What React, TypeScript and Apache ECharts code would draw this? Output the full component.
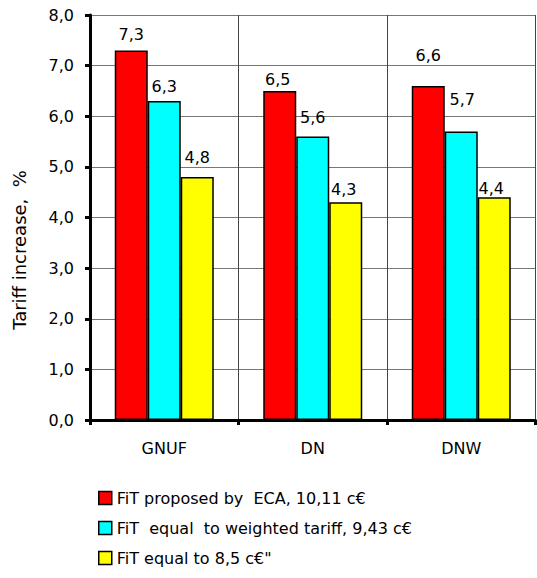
import React, { useEffect, useRef } from "react";
import * as echarts from "echarts";

const categories = ["GNUF", "DN", "DNW"];
const seriesNames = [
  "FiT proposed by  ECA, 10,11 c€",
  "FiT  equal  to weighted tariff, 9,43 c€",
  "FiT equal to 8,5 c€\"",
];
const ecaValues = [7.3, 6.5, 6.6];
const weightedValues = [6.3, 5.6, 5.7];
const fixedValues = [4.8, 4.3, 4.4];
const yAxisTitle = "Tariff increase,  %";

const colors = ["#FF0000", "#00FFFF", "#FFFF00"];
// label offsets per bar (visual tweaks only)
const labelOffsets = [
  [[0, -3], [-2, 2], [0, -17]],
  [[0, -2], [0, -6], [1, -19]],
  [[0, -7], [-2, 0], [-3, 4]],
];

const FONT = "DejaVu Sans";
const fmt = (v: number) => v.toFixed(1).replace(".", ",");

export default function App() {
  const ref = useRef<HTMLDivElement>(null);
  useEffect(() => {
    if (!ref.current) return;
    const chart = echarts.init(ref.current, undefined, { renderer: "svg" });
    const allValues = [ecaValues, weightedValues, fixedValues];
    const series = allValues.map((vals, si) => ({
      name: seriesNames[si],
      type: "bar" as const,
      barWidth: 33,
      barGap: "0%",
      itemStyle: { color: colors[si], borderColor: "#000", borderWidth: 1.5 },
      label: {
        show: true,
        position: "top" as const,
        distance: 5,
        color: "#000",
        fontFamily: FONT,
        fontSize: 16,
        formatter: (p: any) => fmt(p.value),
      },
      data: vals.map((v, i) => ({
        value: v,
        label: { offset: labelOffsets[si][i] },
      })),
    }));
    chart.setOption({
      animation: false,
      backgroundColor: "#fff",
      textStyle: { fontFamily: FONT },
      grid: { left: 90, right: 1.5, top: 15, bottom: 158, containLabel: false },
      legend: {
        orient: "vertical",
        left: 98,
        top: 490,
        padding: 0,
        itemWidth: 13,
        itemHeight: 13,
        itemGap: 14,
        icon: "rect",
        selectedMode: false,
        itemStyle: { borderColor: "#000", borderWidth: 1.5 },
        textStyle: { fontFamily: FONT, fontSize: 16, color: "#000" },
        data: seriesNames,
      },
      xAxis: {
        type: "category",
        data: categories,
        boundaryGap: true,
        axisLine: { show: true, lineStyle: { color: "#000", width: 3 } },
        axisTick: { show: true, length: 5, lineStyle: { color: "#000", width: 3 } },
        axisLabel: { margin: 20, color: "#000", fontFamily: FONT, fontSize: 16 },
        splitLine: { show: true, lineStyle: { color: "#444", width: 1 } },
      },
      yAxis: {
        type: "value",
        min: 0,
        max: 8,
        interval: 1,
        axisLine: { show: true, lineStyle: { color: "#000", width: 3 } },
        axisTick: { show: true, length: 5, lineStyle: { color: "#000", width: 3 } },
        axisLabel: {
          margin: 16,
          color: "#000",
          fontFamily: FONT,
          fontSize: 16,
          formatter: (v: number) => fmt(v),
        },
        splitLine: { show: true, lineStyle: { color: "#777", width: 1 } },
      },
      graphic: [
        {
          type: "text",
          x: 19,
          y: 250,
          rotation: Math.PI / 2,
          style: {
            text: yAxisTitle,
            fill: "#000",
            font: `18px "${FONT}"`,
            align: "center",
            verticalAlign: "middle",
          },
        },
      ],
      series,
    });
    return () => chart.dispose();
  }, []);
  return (
    <div
      ref={ref}
      style={{ position: "fixed", left: 0, top: 0, width: 537, height: 578, background: "#fff" }}
    />
  );
}
